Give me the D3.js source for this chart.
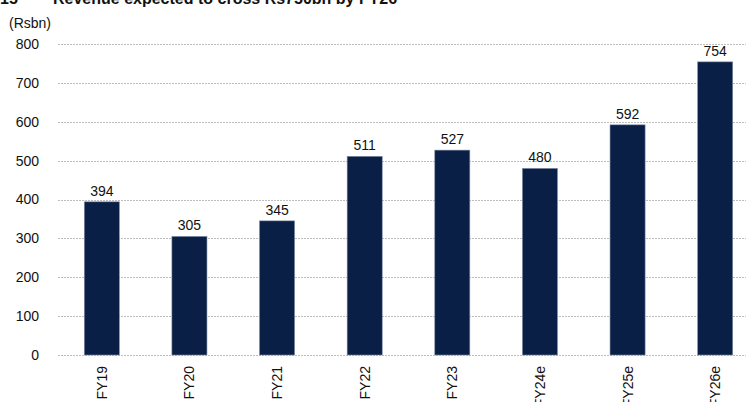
<!DOCTYPE html>
<html>
<head>
<meta charset="utf-8">
<script src="https://cdn.jsdelivr.net/npm/d3@7"></script>
<style>
  body { margin: 0; background: #fff; }
  svg { display: block; font-family: "Liberation Sans", Arial, sans-serif; }
</style>
</head>
<body>
<svg id="chart" width="746" height="402"></svg>
<script>
const categories = ['FY19', 'FY20', 'FY21', 'FY22', 'FY23', 'FY24e', 'FY25e', 'FY26e'];
const revenue = [394, 305, 345, 511, 527, 480, 592, 754];
const yTicks = [0, 100, 200, 300, 400, 500, 600, 700, 800];

const svg = d3.select('#chart');

const x = d3.scaleBand().domain(categories).range([58, 759]).paddingInner(0.6).paddingOuter(0.3);
const y = d3.scaleLinear().domain([0, 800]).range([355, 44]);

// title, cut off at the top like the source
const title = svg.append('g').attr('font-size', 16).attr('font-weight', 'bold').attr('fill', '#111');
title.append('text').attr('x', 0).attr('y', 4).text('15 \u2013');
title.append('text').attr('x', 53).attr('y', 4).text('Revenue expected to cross Rs750bn by FY26');

svg.append('text')
  .attr('x', 9).attr('y', 28)
  .attr('font-size', 14).attr('fill', '#111')
  .text('(Rsbn)');

// gridlines
svg.append('g').selectAll('line').data(yTicks).join('line')
  .attr('x1', 58).attr('x2', 746)
  .attr('y1', d => Math.round(y(d)) + 0.5).attr('y2', d => Math.round(y(d)) + 0.5)
  .attr('stroke', '#bdbdbd').attr('stroke-width', 1).attr('stroke-dasharray', '2,1');

// y axis labels
svg.append('g').selectAll('text').data(yTicks).join('text')
  .attr('x', 39).attr('y', d => y(d))
  .attr('dy', '0.35em').attr('text-anchor', 'end')
  .attr('font-size', 14).attr('fill', '#111')
  .text(d => d);

// bars
svg.append('g').selectAll('rect').data(revenue).join('rect')
  .attr('x', (d, i) => x(categories[i]))
  .attr('width', x.bandwidth())
  .attr('y', d => y(d))
  .attr('height', d => y(0) - y(d))
  .attr('fill', '#0a1f45')
  .attr('stroke', '#7d8aa3').attr('stroke-width', 0.6);

// value labels
svg.append('g').selectAll('text').data(revenue).join('text')
  .attr('x', (d, i) => x(categories[i]) + x.bandwidth() / 2)
  .attr('y', d => y(d) - 6)
  .attr('text-anchor', 'middle')
  .attr('font-size', 14).attr('fill', '#111')
  .text(d => d);

// x labels rotated
svg.append('g').selectAll('text').data(categories).join('text')
  .attr('transform', d => `translate(${x(d) + x.bandwidth() / 2 + 5},366) rotate(-90)`)
  .attr('text-anchor', 'end')
  .attr('font-size', 14).attr('fill', '#111')
  .text(d => d);
</script>
</body>
</html>
